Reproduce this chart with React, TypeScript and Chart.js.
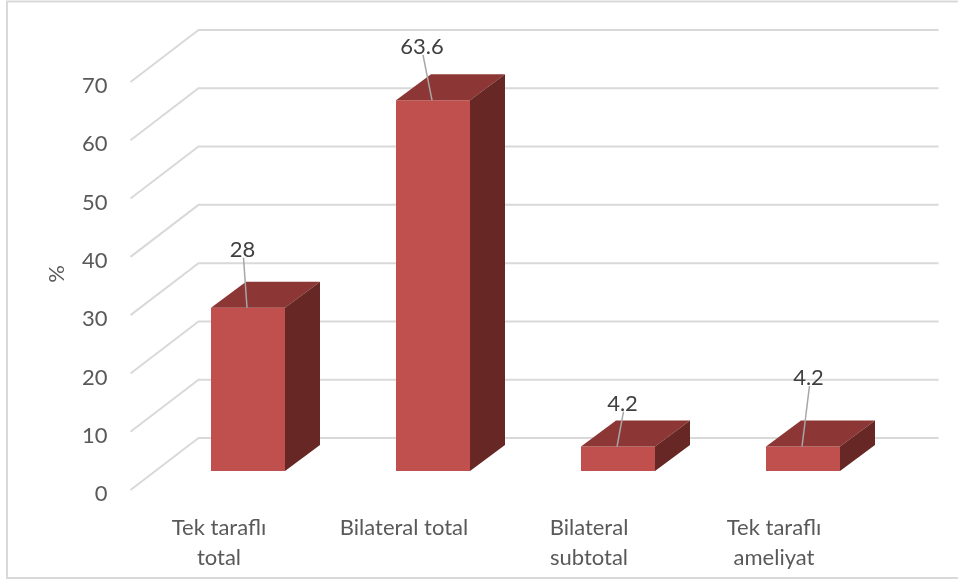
import React, { useEffect, useRef } from "react";
import { Chart, registerables } from "chart.js";

Chart.register(...registerables);

// Categories (multi-line where the label wraps) and percentages
const categories: (string | string[])[] = [
  ["Tek taraflı", "total"],
  "Bilateral total",
  ["Bilateral", "subtotal"],
  ["Tek taraflı", "ameliyat"],
];
const values: number[] = [28, 63.6, 4.2, 4.2];
const yTicks: number[] = [0, 10, 20, 30, 40, 50, 60, 70];
const axisTitle = "%";

// Where each value label sits relative to its bar's top-front centre
const labelOffsets: [number, number][] = [
  [-5.5, -58],
  [-11, -53.5],
  [4.5, -43],
  [5.5, -68.5],
];

// Oblique 3D geometry (pixels)
const FRONT = { dx: -25, dy: 19 }; // front edge of the floor relative to the bar plane
const BACK = { dx: 43, dy: -33 }; // back wall relative to the bar plane
const BAR_DEPTH = { dx: 35, dy: -26 };

const FONT = "Lato, 'Open Sans', sans-serif";
const FONT_SIZE = 22;
const GRID = "#d9d9d9";
const FRONT_COLOR = "#c0504d";
const TOP_COLOR = "#8c3735";
const SIDE_COLOR = "#662725";

const scene3d = {
  id: "scene3d",
  beforeDatasetsDraw(chart: any) {
    const { ctx, chartArea } = chart;
    const x = chart.scales.x;
    const y = chart.scales.y;
    const { left, right } = chartArea;
    ctx.save();

    // outer frame
    ctx.strokeStyle = GRID;
    ctx.lineWidth = 2;
    ctx.beginPath();
    ctx.moveTo(958, 1.5);
    ctx.lineTo(7, 1.5);
    ctx.lineTo(7, 578);
    ctx.lineTo(958, 578);
    ctx.stroke();

    // gridlines on back wall and left wall
    ctx.lineWidth = 2;
    ctx.strokeStyle = GRID;
    yTicks.forEach((v) => {
      const py = y.getPixelForValue(v);
      ctx.beginPath();
      ctx.moveTo(left + FRONT.dx, py + FRONT.dy);
      ctx.lineTo(left + BACK.dx, py + BACK.dy);
      ctx.lineTo(right + BACK.dx, py + BACK.dy);
      ctx.stroke();
    });

    // value axis labels
    ctx.fillStyle = "#595959";
    ctx.font = `${FONT_SIZE}px ${FONT}`;
    ctx.textAlign = "right";
    ctx.textBaseline = "middle";
    yTicks.forEach((v) => {
      const py = y.getPixelForValue(v);
      ctx.fillText(String(v), left + FRONT.dx - 23, py + FRONT.dy + 4);
    });

    // axis title
    ctx.save();
    ctx.translate(57, 274);
    ctx.rotate(-Math.PI / 2);
    ctx.textAlign = "center";
    ctx.fillText(axisTitle, 0, 0);
    ctx.restore();

    // category labels
    ctx.textAlign = "center";
    chart.data.labels.forEach((lab: string | string[], i: number) => {
      const px = x.getPixelForValue(i) - 29;
      const lines = Array.isArray(lab) ? lab : [lab];
      lines.forEach((ln, j) => ctx.fillText(ln, px, 528 + j * 30));
    });
    ctx.restore();
  },
  afterDatasetsDraw(chart: any) {
    const { ctx } = chart;
    const meta = chart.getDatasetMeta(0);
    ctx.save();
    meta.data.forEach((bar: any, i: number) => {
      const { x, y, base, width } = bar.getProps(["x", "y", "base", "width"], true);
      const l = x - width / 2;
      const r = x + width / 2;
      // top face
      ctx.fillStyle = TOP_COLOR;
      ctx.beginPath();
      ctx.moveTo(l, y);
      ctx.lineTo(r, y);
      ctx.lineTo(r + BAR_DEPTH.dx, y + BAR_DEPTH.dy);
      ctx.lineTo(l + BAR_DEPTH.dx, y + BAR_DEPTH.dy);
      ctx.closePath();
      ctx.fill();
      // side face
      ctx.fillStyle = SIDE_COLOR;
      ctx.beginPath();
      ctx.moveTo(r, y);
      ctx.lineTo(r + BAR_DEPTH.dx, y + BAR_DEPTH.dy);
      ctx.lineTo(r + BAR_DEPTH.dx, base + BAR_DEPTH.dy);
      ctx.lineTo(r, base);
      ctx.closePath();
      ctx.fill();

      // value label with leader line
      const [ox, oy] = labelOffsets[i];
      const lx = x + ox;
      const ly = y + oy;
      ctx.strokeStyle = "#a6a6a6";
      ctx.lineWidth = 1.5;
      ctx.beginPath();
      ctx.moveTo(lx + 1, ly + 8);
      ctx.lineTo(x - 1, y);
      ctx.stroke();
      ctx.fillStyle = "#404040";
      ctx.font = `${FONT_SIZE}px ${FONT}`;
      ctx.textAlign = "center";
      ctx.textBaseline = "middle";
      ctx.fillText(String(chart.data.datasets[0].data[i]), lx, ly);
    });
    ctx.restore();
  },
};

export default function App() {
  const ref = useRef<HTMLCanvasElement>(null);
  useEffect(() => {
    if (!ref.current) return;
    const chart = new Chart(ref.current, {
      type: "bar",
      data: {
        labels: categories as any,
        datasets: [
          {
            data: values,
            backgroundColor: FRONT_COLOR,
            borderWidth: 0,
            barPercentage: 0.4,
            categoryPercentage: 1,
          },
        ],
      },
      options: {
        responsive: false,
        animation: false,
        devicePixelRatio: 1,
        layout: { padding: { left: 155.5, right: 62.5, top: 63, bottom: 108 } },
        plugins: { legend: { display: false }, tooltip: { enabled: false } },
        scales: {
          x: { display: false, offset: true },
          y: { display: false, min: 0, max: 70, ticks: { stepSize: 10 } },
        },
      },
      plugins: [scene3d],
    });
    return () => chart.destroy();
  }, []);
  return (
    <canvas
      ref={ref}
      width={958}
      height={579}
      style={{ position: "fixed", left: 0, top: 0, width: 958, height: 579, background: "#fff" }}
    />
  );
}
